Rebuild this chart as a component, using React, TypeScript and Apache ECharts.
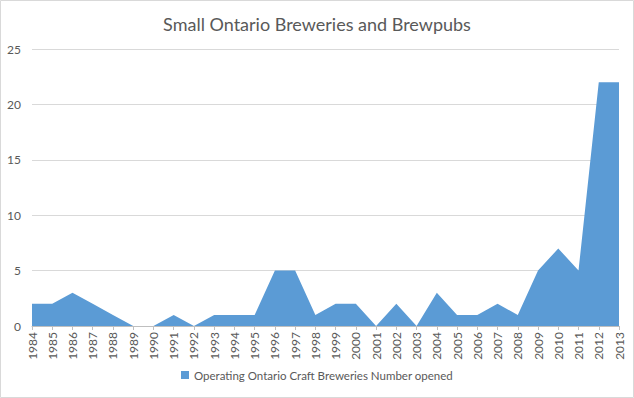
import React, { useEffect, useRef } from "react";
import * as echarts from "echarts";

const years = ["1984","1985","1986","1987","1988","1989","1990","1991","1992","1993","1994","1995","1996","1997","1998","1999","2000","2001","2002","2003","2004","2005","2006","2007","2008","2009","2010","2011","2012","2013"];
const opened = [2,2,3,2,1,0,0,1,0,1,1,1,5,5,1,2,2,0,2,0,3,1,1,2,1,5,7,5,22,22];
const seriesName = "Operating Ontario Craft Breweries Number opened";
const title = "Small Ontario Breweries and Brewpubs";

export default function App() {
  const ref = useRef<HTMLDivElement>(null);
  useEffect(() => {
    const chart = echarts.init(ref.current!, null, { renderer: "svg" });
    const font = "Lato, 'Open Sans', sans-serif";
    chart.setOption({
      animation: false,
      backgroundColor: "#fff",
      textStyle: { fontFamily: font },
      title: {
        text: title,
        left: "center",
        top: 10,
        textStyle: { fontFamily: font, fontSize: 18, fontWeight: "normal", color: "#595959" },
      },
      graphic: [
        { type: "rect", shape: { x: 0.5, y: 0.5, width: 633, height: 397 }, style: { fill: "none", stroke: "#d9d9d9", lineWidth: 1 } },
      ],
      legend: {
        bottom: 12,
        left: "center",
        itemWidth: 8,
        itemHeight: 8,
        itemGap: 4,
        icon: "rect",
        textStyle: { fontFamily: font, fontSize: 11.5, color: "#595959" },
        data: [seriesName],
      },
      grid: { left: 32, right: 15, top: 49, bottom: 72, containLabel: false },
      xAxis: {
        type: "category",
        data: years,
        boundaryGap: false,
        axisLine: { lineStyle: { color: "#bfbfbf" } },
        axisTick: { show: true, alignWithLabel: true, length: 4, lineStyle: { color: "#bfbfbf" } },
        axisLabel: { rotate: 90, interval: 0, margin: 6, fontSize: 12, color: "#595959", fontFamily: font },
      },
      yAxis: {
        type: "value",
        min: 0,
        max: 25,
        interval: 5,
        axisLine: { show: false },
        axisTick: { show: false },
        splitLine: { lineStyle: { color: "#d9d9d9" } },
        axisLabel: { margin: 11, fontSize: 12, color: "#595959", fontFamily: font },
      },
      series: [
        {
          name: seriesName,
          type: "line",
          data: opened,
          symbol: "none",
          lineStyle: { width: 0 },
          itemStyle: { color: "#5B9BD5" },
          areaStyle: { color: "#5B9BD5", opacity: 1 },
        },
      ],
    });
    return () => chart.dispose();
  }, []);
  return <div ref={ref} style={{ position: "absolute", left: 0, top: 0, width: 634, height: 398 }} />;
}
